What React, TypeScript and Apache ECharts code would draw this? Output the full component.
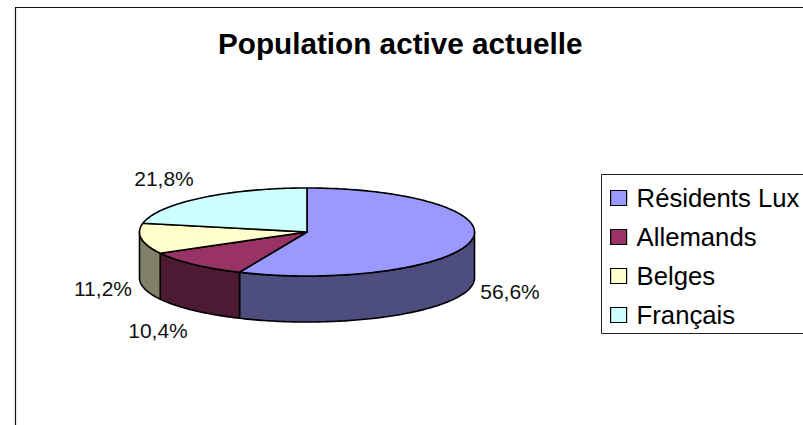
import React, { useEffect, useRef } from "react";
import * as echarts from "echarts";

const categories = ["Résidents Lux", "Allemands", "Belges", "Français"];
const shares = [56.6, 10.4, 11.2, 21.8];
const topColors = ["#9999FF", "#993366", "#FFFFCC", "#CCFFFF"];
const sideColors = ["#4D4D80", "#4D1A33", "#808066", "#668080"];
const labelCentres = [
  [510, 291],
  [158, 330],
  [103, 288],
  [164, 178],
];
const titleText = "Population active actuelle";

const FONT = '"Liberation Sans", Arial, sans-serif';
const CX = 307;
const CY = 232;
const RX = 167.5;
const RY = 44;
const DEPTH = 46;

const pt = (deg: number, dy = 0): number[] => {
  const r = (deg * Math.PI) / 180;
  return [CX + RX * Math.sin(r), CY - RY * Math.cos(r) + dy];
};

const arc = (from: number, to: number, dy = 0): number[][] => {
  const out: number[][] = [];
  const n = Math.max(2, Math.ceil(Math.abs(to - from)));
  for (let i = 0; i <= n; i++) out.push(pt(from + ((to - from) * i) / n, dy));
  return out;
};

const total = shares.reduce((a, b) => a + b, 0);

const makeRenderItem = (index: number) => () => {
  const before = shares.slice(0, index).reduce((a, b) => a + b, 0);
  const start = (before / total) * 360;
  const end = ((before + shares[index]) / total) * 360;
  const children: any[] = [];
  const sFrom = Math.max(start, 90);
  const sTo = Math.min(end, 270);
  if (sTo > sFrom) {
    children.push({
      type: "polygon",
      shape: { points: [...arc(sFrom, sTo), ...arc(sTo, sFrom, DEPTH)] },
      style: { fill: sideColors[index], stroke: "#000", lineWidth: 1.6, lineJoin: "round" },
    });
  }
  children.push({
    type: "polygon",
    shape: { points: [[CX, CY], ...arc(start, end)] },
    style: { fill: topColors[index], stroke: "#000", lineWidth: 1.6, lineJoin: "round" },
  });
  children.push({
    type: "text",
    style: {
      x: labelCentres[index][0],
      y: labelCentres[index][1],
      text: shares[index].toFixed(1).replace(".", ",") + "%",
      fill: "#111",
      font: `21px ${FONT}`,
      align: "center",
      verticalAlign: "middle",
    },
  });
  return { type: "group", children };
};

export default function App() {
  const ref = useRef<HTMLDivElement>(null);
  useEffect(() => {
    document.body.style.margin = "0";
    const chart = echarts.init(ref.current!, null, { renderer: "svg" });
    chart.setOption({
      animation: false,
      backgroundColor: "#fff",
      title: {
        text: titleText,
        left: 218,
        top: 28,
        padding: 0,
        textStyle: { fontFamily: FONT, fontSize: 29.7, fontWeight: "bold", color: "#000" },
      },
      legend: {
        orient: "vertical",
        left: 601.5,
        top: 174.5,
        padding: [9, 14, 4, 8.5],
        backgroundColor: "#fff",
        borderColor: "#222",
        borderWidth: 1,
        borderRadius: 0,
        itemWidth: 16,
        itemHeight: 15,
        itemGap: 10,
        selectedMode: false,
        data: categories.map((name, i) => ({
          name,
          icon: "rect",
          itemStyle: { color: topColors[i], borderColor: "#000", borderWidth: 1.2 },
        })),
        textStyle: { fontFamily: FONT, fontSize: 25.7, color: "#000", padding: [0, 0, 0, 5], lineHeight: 29 },
      },
      graphic: [
        {
          type: "polyline",
          shape: { points: [[15.5, 430], [15.5, 7.5], [810, 7.5]] },
          style: { fill: "none", stroke: "#111", lineWidth: 1.2 },
          silent: true,
          z: 0,
        },
      ],
      series: categories.map((name, i) => ({
        type: "custom",
        name,
        coordinateSystem: "none",
        silent: true,
        itemStyle: { color: topColors[i] },
        data: [[shares[i]]],
        renderItem: makeRenderItem(i),
      })),
    });
    return () => chart.dispose();
  }, []);
  return <div ref={ref} style={{ width: 803, height: 425 }} />;
}
